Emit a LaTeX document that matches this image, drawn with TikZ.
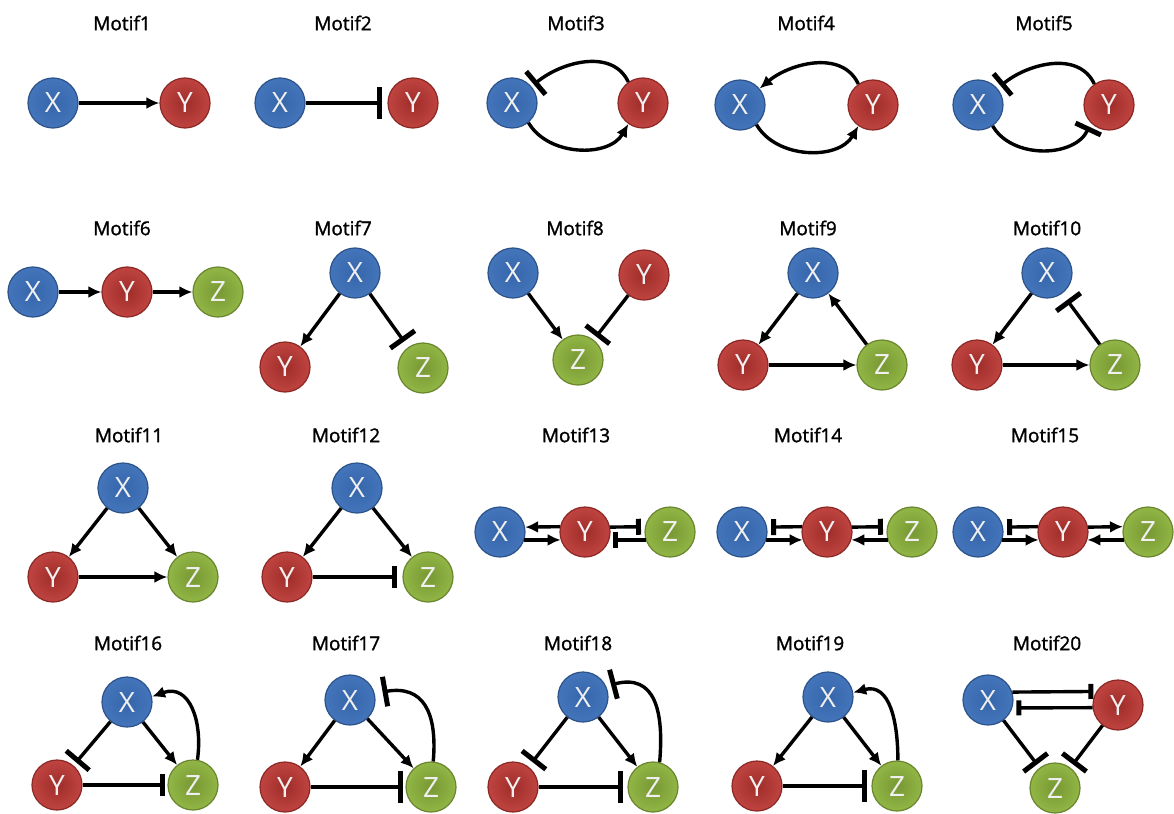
\documentclass[tikz,border=0pt]{standalone}
\usepackage{fontspec}
\setmainfont{Open Sans}
\newfontfamily\titlefont[FakeBold=1.5]{Open Sans}
\usetikzlibrary{arrows.meta,calc}
\definecolor{geneblue}{RGB}{58,110,184}
\definecolor{genered}{RGB}{186,52,48}
\definecolor{genegreen}{RGB}{140,178,60}
\begin{document}
\begin{tikzpicture}[x=1pt,y=-1pt,
  gene/.style={circle, minimum size=50pt, inner sep=0pt, line width=1.2pt,
    font=\fontsize{28}{28}\selectfont, text=white!94!black},
  xg/.style={gene, draw=geneblue!75!black, inner color=geneblue!92!black, outer color=geneblue!95!white},
  yg/.style={gene, draw=genered!75!black, inner color=genered!85!black, outer color=genered!92!white},
  zg/.style={gene, draw=genegreen!75!black, inner color=genegreen!85!black, outer color=genegreen!95!white},
  ttl/.style={font=\titlefont\fontsize{19}{19}\selectfont, text=black},
  act/.style={line width=3.4pt, -{Latex[length=13pt,width=12pt]}},
  inh/.style={line width=3.4pt, -{Rectangle[length=5pt,width=#1]}, shorten >=4pt},
  inh/.default=30pt]

\useasboundingbox (0,0) rectangle (1174,813);
\fill[white] (0,0) rectangle (1174,813);

% ---------- row 1 ----------
\node[ttl] (t1) at (122,23) {Motif1};
\node[xg] (a1x) at (53,103) {X};
\node[yg] (a1y) at (185,103) {Y};
\draw[act] (a1x) -- (a1y);

\node[ttl] (t2) at (343,23) {Motif2};
\node[xg] (a2x) at (280,103) {X};
\node[yg] (a2y) at (413,103) {Y};
\draw[inh=32pt, shorten >=5pt] (a2x) -- (a2y);

\node[ttl] (t3) at (576,23) {Motif3};
\node[xg] (a3x) at (512,103) {X};
\node[yg] (a3y) at (643,103) {Y};
\draw[inh, shorten >=3pt] (a3y.125) to[out=115,in=40] (a3x.40);
\draw[act] (a3x.-50) to[out=-60,in=-120] (a3y.-125);

\node[ttl] (t4) at (806,23) {Motif4};
\node[xg] (a4x) at (740,105) {X};
\node[yg] (a4y) at (873,105) {Y};
\draw[act] (a4y.125) to[out=115,in=40] (a4x.40);
\draw[act] (a4x.-50) to[out=-60,in=-120] (a4y.-125);

\node[ttl] (t5) at (1044,23) {Motif5};
\node[xg] (a5x) at (978,105) {X};
\node[yg] (a5y) at (1109,105) {Y};
\draw[inh=28pt] (a5y.125) to[out=115,in=40] (a5x.40);
\draw[inh=28pt] (a5x.-55) to[out=-60,in=-115] (a5y.-135);

% ---------- row 2 ----------
\node[ttl] (t6) at (122,228) {Motif6};
\node[xg] (a6x) at (33,292) {X};
\node[yg] (a6y) at (127,292) {Y};
\node[zg] (a6z) at (218,292) {Z};
\draw[act] (a6x) -- (a6y);
\draw[act] (a6y) -- (a6z);

\node[ttl] (t7) at (343,228) {Motif7};
\node[xg] (a7x) at (355,273) {X};
\node[yg] (a7y) at (285,367) {Y};
\node[zg] (a7z) at (423,368) {Z};
\draw[act] (a7x) -- (a7y);
\draw[inh, shorten >=7pt] (a7x) -- (a7z);

\node[ttl] (t8) at (575,228) {Motif8};
\node[xg] (a8x) at (513,273) {X};
\node[yg] (a8y) at (644,275) {Y};
\node[zg] (a8z) at (578,360) {Z};
\draw[act] (a8x) -- (a8z);
\draw[inh] (a8y) -- (a8z);

\node[ttl] (t9) at (808,228) {Motif9};
\node[xg] (a9x) at (813,273) {X};
\node[yg] (a9y) at (743,365) {Y};
\node[zg] (a9z) at (882,365) {Z};
\draw[act] (a9x) -- (a9y);
\draw[act] (a9y) -- (a9z);
\draw[act] (a9z) -- (a9x);

\node[ttl] (t10) at (1047,228) {Motif10};
\node[xg] (a10x) at (1047,273) {X};
\node[yg] (a10y) at (977,365) {Y};
\node[zg] (a10z) at (1115,365) {Z};
\draw[act] (a10x) -- (a10y);
\draw[act] (a10y) -- (a10z);
\draw[inh, shorten >=8pt] (a10z) -- (a10x);

% ---------- row 3 ----------
\node[ttl] (t11) at (129,435) {Motif11};
\node[xg] (a11x) at (123,488) {X};
\node[yg] (a11y) at (53,577) {Y};
\node[zg] (a11z) at (193,577) {Z};
\draw[act] (a11x) -- (a11y);
\draw[act] (a11x) -- (a11z);
\draw[act] (a11y) -- (a11z);

\node[ttl] (t12) at (346,435) {Motif12};
\node[xg] (a12x) at (357,488) {X};
\node[yg] (a12y) at (287,577) {Y};
\node[zg] (a12z) at (428,577) {Z};
\draw[act] (a12x) -- (a12y);
\draw[act] (a12x) -- (a12z);
\draw[inh=22pt, shorten >=5pt] (a12y) -- (a12z);

\node[ttl] (t13) at (576,435) {Motif13};
\node[xg] (a13x) at (500,532) {X};
\node[yg] (a13y) at (585,532) {Y};
\node[zg] (a13z) at (670,532) {Z};
\draw[act] (a13y.168.5) -- (a13x.11.5);
\draw[act] (a13x.-18.7) -- (a13y.198.7);
\draw[inh=16pt] (a13y.11.5) -- (a13z.168.5);
\draw[inh=16pt] (a13z.198.7) -- (a13y.-18.7);

\node[ttl] (t14) at (808,435) {Motif14};
\node[xg] (a14x) at (742,532) {X};
\node[yg] (a14y) at (827,532) {Y};
\node[zg] (a14z) at (912,532) {Z};
\draw[inh=16pt] (a14y.168.5) -- (a14x.11.5);
\draw[act] (a14x.-18.7) -- (a14y.198.7);
\draw[inh=16pt] (a14y.11.5) -- (a14z.168.5);
\draw[act] (a14z.198.7) -- (a14y.-18.7);

\node[ttl] (t15) at (1045,435) {Motif15};
\node[xg] (a15x) at (978,532) {X};
\node[yg] (a15y) at (1063,532) {Y};
\node[zg] (a15z) at (1148,532) {Z};
\draw[inh=16pt] (a15y.168.5) -- (a15x.11.5);
\draw[act] (a15x.-18.7) -- (a15y.198.7);
\draw[act] (a15y.11.5) -- (a15z.168.5);
\draw[act] (a15z.198.7) -- (a15y.-18.7);

% ---------- row 4 ----------
\node[ttl] (t16) at (128,643) {Motif16};
\node[xg] (a16x) at (127,702) {X};
\node[yg] (a16y) at (57,785) {Y};
\node[zg] (a16z) at (193,785) {Z};
\draw[inh] (a16x) -- (a16y);
\draw[act] (a16x) -- (a16z);
\draw[inh=22pt, shorten >=2pt] (a16y) -- (a16z);
\draw[act] (a16z.80) to[out=82,in=20,looseness=1.3] (a16x.12);

\node[ttl] (t17) at (346,643) {Motif17};
\node[xg] (a17x) at (350,700) {X};
\node[yg] (a17y) at (285,787) {Y};
\node[zg] (a17z) at (431,787) {Z};
\draw[act] (a17x) -- (a17y);
\draw[act] (a17x) -- (a17z);
\draw[inh=32pt, shorten >=2pt] (a17y) -- (a17z);
\draw[inh, shorten >=8pt] (a17z.85) to[out=85,in=10,looseness=1.4] (a17x.15);

\node[ttl] (t18) at (578,643) {Motif18};
\node[xg] (a18x) at (583,697) {X};
\node[yg] (a18y) at (513,787) {Y};
\node[zg] (a18z) at (653,787) {Z};
\draw[inh, shorten >=6pt] (a18x) -- (a18y);
\draw[act] (a18x) -- (a18z);
\draw[inh=32pt] (a18y) -- (a18z);
\draw[inh, shorten >=5pt] (a18z.75) to[out=85,in=15,looseness=1.4] (a18x.25);

\node[ttl] (t19) at (810,643) {Motif19};
\node[xg] (a19x) at (828,697) {X};
\node[yg] (a19y) at (757,786) {Y};
\node[zg] (a19z) at (897,786) {Z};
\draw[act] (a19x) -- (a19y);
\draw[act] (a19x) -- (a19z);
\draw[inh=32pt] (a19y) -- (a19z);
\draw[act] (a19z.88) to[out=90,in=15,looseness=1.2] (a19x.10);

\node[ttl] (t20) at (1047,643) {Motif20};
\node[xg] (a20x) at (988,700) {X};
\node[yg] (a20y) at (1118,705) {Y};
\node[zg] (a20z) at (1055,788) {Z};
\draw[inh=15pt, shorten >=3pt] (a20x.18.7) -- (a20y.148.7);
\draw[inh=15pt] (a20y.186.9) -- (a20x.-18.7);
\draw[inh] (a20x) -- (a20z);
\draw[inh] (a20y) -- (a20z);

\end{tikzpicture}
\end{document}
